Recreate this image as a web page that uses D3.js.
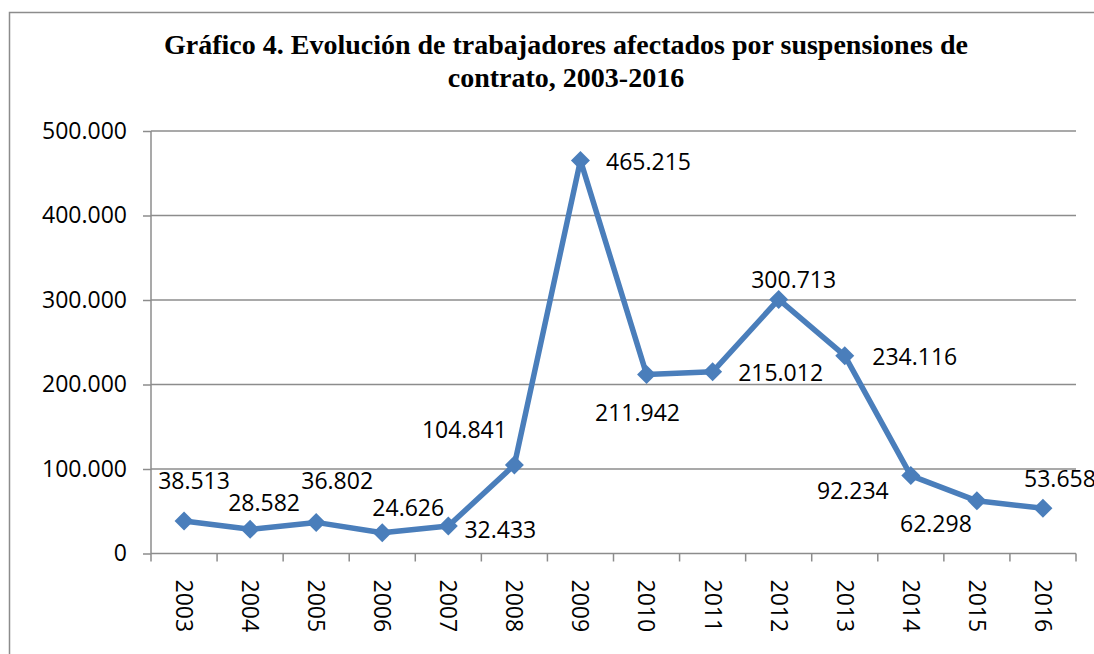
<!DOCTYPE html>
<html>
<head>
<meta charset="utf-8">
<script src="https://cdn.jsdelivr.net/npm/d3@7"></script>
<style>
  body { margin: 0; background: #fff; }
  svg { display: block; }
  .axis text { font-family: "Open Sans", sans-serif; font-size: 23px; fill: #000; }
  .label { font-family: "Open Sans", sans-serif; font-size: 23px; fill: #000; }
  .title { font-family: "Liberation Serif", "Times New Roman", serif; font-weight: bold; font-size: 28px; fill: #000; }
</style>
</head>
<body>
<svg id="chart"></svg>
<script>
const years = ['2003', '2004', '2005', '2006', '2007', '2008', '2009', '2010', '2011', '2012', '2013', '2014', '2015', '2016'];
const workers = [38513, 28582, 36802, 24626, 32433, 104841, 465215, 211942, 215012, 300713, 234116, 92234, 62298, 53658];
const yTicks = [0, 100000, 200000, 300000, 400000, 500000];
const titleLines = ['Gráfico 4. Evolución de trabajadores afectados por suspensiones de', 'contrato, 2003-2016'];

// label offsets from each point (centre x, baseline y)
const labelOffsets = [[10, -32], [14, -18], [21, -33], [26, -17], [52, 12], [-50, -27], [68, 10],
                      [-9, 47], [68, 9], [15, -11], [70, 9], [-58, 23], [-41, 31], [17, -21]];

const width = 1094, height = 654;
const margin = { top: 131, right: 18, bottom: 100, left: 151 };
const innerW = width - margin.left - margin.right;
const innerH = 553.5 - margin.top;

const es = d3.formatLocale({ decimal: ',', thousands: '.', grouping: [3], currency: ['', '€'] });
const fmt = es.format(',d');

const svg = d3.select('#chart').attr('width', width).attr('height', height);

// outer frame
svg.append('rect')
  .attr('x', 9.5).attr('y', 12.5)
  .attr('width', width).attr('height', height)
  .attr('fill', 'none').attr('stroke', '#8c8c8c').attr('stroke-width', 1.5);

svg.selectAll('.title')
  .data(titleLines)
  .enter()
  .append('text')
  .attr('class', 'title')
  .attr('x', 566)
  .attr('y', (d, i) => 54 + i * 33)
  .attr('text-anchor', 'middle')
  .text(d => d);

const chart = svg.append('g').attr('transform', `translate(${margin.left},${margin.top})`);

const xScale = d3.scaleBand().domain(years).range([0, innerW]);
const yScale = d3.scaleLinear().domain([0, 500000]).range([innerH, 0]);

// gridlines
chart.selectAll('.grid')
  .data(yTicks.slice(1))
  .enter()
  .append('line')
  .attr('x1', 0).attr('x2', innerW)
  .attr('y1', d => yScale(d)).attr('y2', d => yScale(d))
  .attr('stroke', '#8c8c8c').attr('stroke-width', 1.5);

const yAxis = d3.axisLeft(yScale).tickValues(yTicks).tickFormat(fmt).tickSize(8).tickPadding(16);
const yAxisG = chart.append('g').attr('class', 'axis').call(yAxis);
yAxisG.select('.domain').attr('stroke', '#8c8c8c').attr('stroke-width', 1.5).attr('d', `M0,0V${innerH}`);
yAxisG.selectAll('.tick line').attr('stroke', '#8c8c8c').attr('stroke-width', 1.5);

const xAxisG = chart.append('g').attr('class', 'axis').attr('transform', `translate(0,${innerH})`);
xAxisG.append('line')
  .attr('x1', 0).attr('x2', innerW)
  .attr('stroke', '#8c8c8c').attr('stroke-width', 1.5);
xAxisG.selectAll('.tickmark')
  .data(d3.range(years.length + 1))
  .enter()
  .append('line')
  .attr('x1', i => i * xScale.step()).attr('x2', i => i * xScale.step())
  .attr('y1', 0).attr('y2', 8)
  .attr('stroke', '#8c8c8c').attr('stroke-width', 1.5);
xAxisG.selectAll('.year')
  .data(years)
  .enter()
  .append('text')
  .attr('transform', d => `translate(${xScale(d) + xScale.bandwidth() / 2},26) rotate(90)`)
  .attr('dy', '0.35em')
  .attr('text-anchor', 'start')
  .text(d => d);

const cx = i => xScale(years[i]) + xScale.bandwidth() / 2;

const line = d3.line()
  .x((d, i) => cx(i))
  .y(d => yScale(d));

chart.append('path')
  .datum(workers)
  .attr('d', line)
  .attr('fill', 'none')
  .attr('stroke', '#4a7ebb')
  .attr('stroke-width', 5.5)
  .attr('stroke-linejoin', 'round');

chart.selectAll('.marker')
  .data(workers)
  .enter()
  .append('path')
  .attr('class', 'marker')
  .attr('d', 'M0,-9.5L9.5,0L0,9.5L-9.5,0Z')
  .attr('transform', (d, i) => `translate(${cx(i)},${yScale(d)})`)
  .attr('fill', '#4a7ebb');

chart.selectAll('.label')
  .data(workers)
  .enter()
  .append('text')
  .attr('class', 'label')
  .attr('x', (d, i) => cx(i) + labelOffsets[i][0])
  .attr('y', (d, i) => yScale(d) + labelOffsets[i][1])
  .attr('text-anchor', 'middle')
  .text(d => fmt(d));
</script>
</body>
</html>
